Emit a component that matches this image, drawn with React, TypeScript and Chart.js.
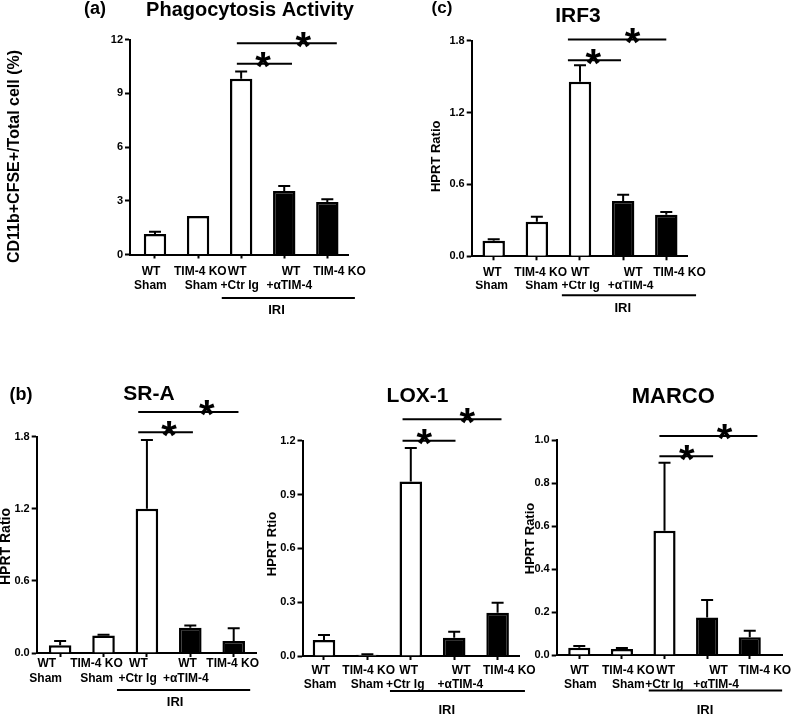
import React, { useEffect, useRef } from 'react';
import { Chart, registerables } from 'chart.js';

Chart.register(...registerables);

const W = 800;
const H = 715;
const FONT = "'Liberation Sans', Arial, Helvetica, sans-serif";

// ---- categories ----
const labelLine1 = ['WT', 'TIM-4 KO', 'WT', 'WT', 'TIM-4 KO'];
const labelLine2 = ['Sham', 'Sham', '+Ctr Ig', '+αTIM-4'];
const groupLabel = 'IRI';
const starText = '*';

// ---- (a) Phagocytosis Activity ----
const phagoMean = [1.14, 2.15, 9.81, 3.54, 2.93];
const phagoSem = [0.13, 0, 0.41, 0.28, 0.15];
const phagoTicks = [0, 3, 6, 9, 12];

// ---- (c) IRF3 ----
const irf3Mean = [0.13, 0.289, 1.457, 0.462, 0.347];
const irf3Sem = [0.012, 0.041, 0.137, 0.052, 0.023];
const irf3Ticks = [0, 0.6, 1.2, 1.8];

// ---- (b) SR-A ----
const sraMean = [0.065, 0.145, 1.2, 0.211, 0.1];
const sraSem = [0.035, 0.006, 0.572, 0.017, 0.105];
const sraTicks = [0, 0.6, 1.2, 1.8];

// ---- LOX-1 ----
const loxMean = [0.089, 0.007, 0.972, 0.102, 0.241];
const loxSem = [0.028, 0.003, 0.188, 0.033, 0.056];
const loxTicks = [0, 0.3, 0.6, 0.9, 1.2];

// ---- MARCO ----
const marcoMean = [0.034, 0.028, 0.578, 0.175, 0.082];
const marcoSem = [0.008, 0.004, 0.316, 0.081, 0.031];
const marcoTicks = [0, 0.2, 0.4, 0.6, 0.8, 1.0];

// significance brackets (category units / value units)
type Sig = { from: number; to: number; y: number; starAt: number };
const phagoSig: Sig[] = [
  { from: 1.9, to: 3.18, y: 10.65, starAt: 2.51 },
  { from: 1.9, to: 4.22, y: 11.79, starAt: 3.44 },
];
const irf3Sig: Sig[] = [
  { from: 1.72, to: 2.95, y: 1.636, starAt: 2.31 },
  { from: 1.72, to: 4.0, y: 1.811, starAt: 3.22 },
];
const sraSig: Sig[] = [
  { from: 1.8, to: 3.06, y: 1.836, starAt: 2.51 },
  { from: 1.8, to: 4.11, y: 2.006, starAt: 3.38 },
];
const loxSig: Sig[] = [
  { from: 1.81, to: 3.03, y: 1.2, starAt: 2.31 },
  { from: 1.81, to: 4.09, y: 1.319, starAt: 3.3 },
];
const marcoSig: Sig[] = [
  { from: 1.88, to: 3.14, y: 0.924, starAt: 2.52 },
  { from: 1.88, to: 4.18, y: 1.019, starAt: 3.41 },
];

const barFill = ['#ffffff', '#ffffff', '#ffffff', '#000000', '#000000'];

type Panel = {
  key: string;
  letter?: string;
  letterX?: number;
  letterY?: number;
  letterSize?: number;
  title: string;
  titleX: number;
  titleY: number;
  titleSize: number;
  yTitle: string;
  yTitleSize: number;
  yTitleX: number;
  yTitleY: number;
  area: { left: number; right: number; top: number; bottom: number };
  xMin: number;
  xMax: number;
  yMax: number;
  yTicks: number[];
  decimals: number;
  mean: number[];
  sem: number[];
  sig: Sig[];
  iri: { from: number; to: number; lineDy: number; textAt: number; textDy: number };
  // label layout (pixels): centre of each text row below the axis, and horizontal nudges
  row1: number;
  row2: number;
  nudge1: number[];
  nudge2: number[];
};

const panels: Panel[] = [
  {
    key: 'a', letter: '(a)', letterX: 95, letterY: 13.5, letterSize: 18,
    title: 'Phagocytosis Activity', titleX: 250, titleY: 16, titleSize: 20,
    yTitle: 'CD11b+CFSE+/Total cell (%)', yTitleSize: 16, yTitleX: 15, yTitleY: 156.5,
    area: { left: 130, right: 348, top: 39.5, bottom: 254.5 },
    xMin: -0.58, xMax: 4.48, yMax: 12, yTicks: phagoTicks, decimals: 0,
    mean: phagoMean, sem: phagoSem, sig: phagoSig,
    iri: { from: 1.55, to: 4.64, lineDy: 43.5, textAt: 2.82, textDy: 56 },
    row1: 17.2, row2: 31.2,
    nudge1: [-4, 2.3, -4, 6.8, 12.2], nudge2: [-4.6, 3, -1.5, 5],
  },
  {
    key: 'c', letter: '(c)', letterX: 442, letterY: 12.5, letterSize: 17,
    title: 'IRF3', titleX: 578, titleY: 21.7, titleSize: 21,
    yTitle: 'HPRT Ratio', yTitleSize: 13, yTitleX: 436, yTitleY: 156.3,
    area: { left: 471.7, right: 687, top: 40.7, bottom: 256.3 },
    xMin: -0.51, xMax: 4.48, yMax: 1.8, yTicks: irf3Ticks, decimals: 1,
    mean: irf3Mean, sem: irf3Sem, sig: irf3Sig,
    iri: { from: 1.58, to: 4.69, lineDy: 39, textAt: 2.99, textDy: 52 },
    row1: 16.4, row2: 29.6,
    nudge1: [-1.5, 3.8, 0.3, 10, 13.2], nudge2: [-2, 4.7, 0.7, 7.5],
  },
  {
    key: 'b', letter: '(b)', letterX: 21, letterY: 399.5, letterSize: 18,
    title: 'SR-A', titleX: 149, titleY: 400, titleSize: 21,
    yTitle: 'HPRT Ratio', yTitleSize: 14, yTitleX: 6.5, yTitleY: 546.5,
    area: { left: 36.7, right: 256.7, top: 436.7, bottom: 653 },
    xMin: -0.54, xMax: 4.53, yMax: 1.8, yTicks: sraTicks, decimals: 1,
    mean: sraMean, sem: sraSem, sig: sraSig,
    iri: { from: 1.31, to: 4.38, lineDy: 37, textAt: 2.65, textDy: 49.5 },
    row1: 10.3, row2: 25.3,
    nudge1: [-13.3, -7, -8.5, -2.8, -1], nudge2: [-14.5, -7, -9.3, -4.5],
  },
  {
    key: 'lox',
    title: 'LOX-1', titleX: 417.5, titleY: 401.7, titleSize: 21,
    yTitle: 'HPRT Rtio', yTitleSize: 13, yTitleX: 272, yTitleY: 544,
    area: { left: 302.5, right: 519.3, top: 440.7, bottom: 656 },
    xMin: -0.495, xMax: 4.5, yMax: 1.2, yTicks: loxTicks, decimals: 1,
    mean: loxMean, sem: loxSem, sig: loxSig,
    iri: { from: 1.52, to: 4.63, lineDy: 35, textAt: 2.83, textDy: 54 },
    row1: 14.7, row2: 29,
    nudge1: [-3.2, 1.3, -2.1, 7, 11.7], nudge2: [-4, -0.4, -5.5, 6.2],
  },
  {
    key: 'marco',
    title: 'MARCO', titleX: 673.3, titleY: 403, titleSize: 22,
    yTitle: 'HPRT Ratio', yTitleSize: 13, yTitleX: 530.5, yTitleY: 538.5,
    area: { left: 556.7, right: 785, top: 440, bottom: 655 },
    xMin: -0.53, xMax: 4.76, yMax: 1.0, yTicks: marcoTicks, decimals: 1,
    mean: marcoMean, sem: marcoSem, sig: marcoSig,
    iri: { from: 1.63, to: 4.76, lineDy: 35.5, textAt: 2.95, textDy: 55 },
    row1: 15.7, row2: 30,
    nudge1: [0.3, 6.5, 1.2, 11.6, 15.3], nudge2: [1.1, 6.4, 0, 9.1],
  },
];

const Y_AXIS_W = 30;
const STAR_SIZE = 40;
const LABEL_LH = 14.5;
const labelFont = { family: FONT, size: 12, weight: 'bold', lineHeight: LABEL_LH + 'px' };

function PanelChart({ p }: { p: Panel }) {
  const ref = useRef<HTMLCanvasElement | null>(null);

  useEffect(() => {
    const canvas = ref.current;
    if (!canvas) return;
    const h0 = 1; // main x axis box (tick marks only)
    const h1 = p.row1 + 8 - h0; // first label row box
    const h2 = p.row2 + 10 - (p.row1 + 8); // second label row box
    const pad = {
      left: p.area.left - Y_AXIS_W,
      right: W - p.area.right,
      top: p.area.top,
      bottom: Math.max(0, H - p.area.bottom - (h0 + h1 + h2)),
    };
    const pxPerUnit = (p.area.right - p.area.left) / (p.xMax - p.xMin);

    const overlay = {
      id: 'overlay_' + p.key,
      afterDatasetsDraw(chart: any) {
        const ctx = chart.ctx;
        const xs = chart.scales.x;
        const ys = chart.scales.y;
        ctx.save();
        ctx.strokeStyle = '#000';
        ctx.lineWidth = 2;
        ctx.lineCap = 'butt';
        p.mean.forEach((m, i) => {
          const s = p.sem[i];
          if (!s) return;
          const x = xs.getPixelForValue(i);
          const y0 = ys.getPixelForValue(m);
          const y1 = ys.getPixelForValue(m + s);
          ctx.beginPath();
          ctx.moveTo(x, y0);
          ctx.lineTo(x, y1);
          ctx.moveTo(x - 6, y1);
          ctx.lineTo(x + 6, y1);
          ctx.stroke();
        });
        ctx.restore();
      },
      afterDraw(chart: any) {
        const ctx = chart.ctx;
        const xs = chart.scales.x;
        const ys = chart.scales.y;
        const area = chart.chartArea;
        ctx.save();
        ctx.strokeStyle = '#000';
        ctx.fillStyle = '#000';
        ctx.lineWidth = 2;
        // significance brackets
        p.sig.forEach((s) => {
          const y = ys.getPixelForValue(s.y);
          ctx.beginPath();
          ctx.moveTo(xs.getPixelForValue(s.from), y);
          ctx.lineTo(xs.getPixelForValue(s.to), y);
          ctx.stroke();
          ctx.font = `bold ${STAR_SIZE}px ${FONT}`;
          ctx.textAlign = 'center';
          ctx.textBaseline = 'alphabetic';
          ctx.fillText(starText, xs.getPixelForValue(s.starAt), y - 6 + 0.56 * STAR_SIZE);
        });
        // IRI group line
        const gy = area.bottom + p.iri.lineDy;
        ctx.beginPath();
        ctx.moveTo(xs.getPixelForValue(p.iri.from), gy);
        ctx.lineTo(xs.getPixelForValue(p.iri.to), gy);
        ctx.stroke();
        ctx.font = `bold 13px ${FONT}`;
        ctx.textAlign = 'center';
        ctx.textBaseline = 'middle';
        ctx.fillText(groupLabel, xs.getPixelForValue(p.iri.textAt), area.bottom + p.iri.textDy);
        // y axis title
        ctx.save();
        ctx.translate(p.yTitleX, p.yTitleY);
        ctx.rotate(-Math.PI / 2);
        ctx.font = `bold ${p.yTitleSize}px ${FONT}`;
        ctx.textAlign = 'center';
        ctx.textBaseline = 'middle';
        ctx.fillText(p.yTitle, 0, 0);
        ctx.restore();
        // panel title
        ctx.textAlign = 'center';
        ctx.textBaseline = 'alphabetic';
        ctx.font = `bold ${p.titleSize}px ${FONT}`;
        ctx.fillText(p.title, p.titleX, p.titleY);
        if (p.letter) {
          ctx.font = `bold ${p.letterSize}px ${FONT}`;
          ctx.fillText(p.letter, p.letterX as number, p.letterY as number);
        }
        ctx.restore();
      },
    };

    const labelAxis = (weight: number, lines: string[], nudges: number[], padding: number, height: number) => ({
      type: 'linear',
      axis: 'x',
      position: 'bottom',
      weight,
      offset: false,
      min: p.xMin,
      max: p.xMax,
      afterFit: (scale: any) => {
        scale.height = height;
      },
      afterBuildTicks: (scale: any) => {
        scale.ticks = lines.map((_, i) => ({ value: i + nudges[i] / pxPerUnit }));
      },
      ticks: {
        autoSkip: false,
        maxRotation: 0,
        minRotation: 0,
        padding,
        color: '#000',
        font: labelFont,
        callback: (_v: any, index: number) => lines[index],
      },
      grid: { display: false, drawTicks: false, offset: false },
      border: { display: false },
    });

    const chart = new Chart(canvas, {
      type: 'bar',
      data: {
        datasets: [
          {
            xAxisID: 'x',
            yAxisID: 'y',
            data: p.mean.map((v, i) => ({ x: i, y: v })),
            backgroundColor: barFill,
            borderColor: '#000',
            borderWidth: 2.5,
            borderSkipped: 'start',
            categoryPercentage: 1,
            barPercentage: 0.52,
          } as any,
        ],
      },
      options: {
        responsive: false,
        animation: false,
        events: [],
        devicePixelRatio: 1,
        layout: { padding: pad },
        plugins: {
          legend: { display: false },
          tooltip: { enabled: false },
          title: { display: false },
        },
        scales: {
          x: {
            type: 'linear',
            position: 'bottom',
            weight: 0,
            offset: false,
            min: p.xMin,
            max: p.xMax,
            afterFit: (scale: any) => {
              scale.height = h0;
            },
            afterBuildTicks: (scale: any) => {
              scale.ticks = p.mean.map((_, i) => ({ value: i }));
            },
            ticks: { display: false, autoSkip: false },
            grid: {
              display: true,
              offset: false,
              drawOnChartArea: false,
              drawTicks: true,
              tickLength: 4,
              tickWidth: 2,
              tickColor: '#000',
            },
            border: { display: true, color: '#000', width: 2 },
          },
          xl1: labelAxis(1, labelLine1, p.nudge1, p.row1 - h0 - LABEL_LH / 2, h1),
          xl2: labelAxis(2, labelLine2, p.nudge2, p.row2 - (p.row1 + 8) - LABEL_LH / 2, h2),
          y: {
            type: 'linear',
            min: 0,
            max: p.yMax,
            afterFit: (scale: any) => {
              scale.width = Y_AXIS_W;
            },
            afterBuildTicks: (scale: any) => {
              scale.ticks = p.yTicks.map((v) => ({ value: v }));
            },
            ticks: {
              padding: 2,
              color: '#000',
              font: { family: FONT, size: 11, weight: 'bold' },
              callback: (value: any) => Number(value).toFixed(p.decimals),
            },
            grid: {
              display: true,
              drawOnChartArea: false,
              drawTicks: true,
              tickLength: 5,
              tickWidth: 2,
              tickColor: '#000',
            },
            border: { display: true, color: '#000', width: 2 },
            title: { display: false },
          },
        },
      } as any,
      plugins: [overlay],
    });
    return () => chart.destroy();
  }, [p]);

  return (
    <canvas
      ref={ref}
      width={W}
      height={H}
      style={{ position: 'absolute', left: 0, top: 0, width: W, height: H }}
    />
  );
}

export default function App() {
  return (
    <div
      style={{
        position: 'absolute',
        left: 0,
        top: 0,
        width: W,
        height: H,
        background: '#fff',
        overflow: 'hidden',
      }}
    >
      {panels.map((p) => (
        <PanelChart key={p.key} p={p} />
      ))}
    </div>
  );
}
